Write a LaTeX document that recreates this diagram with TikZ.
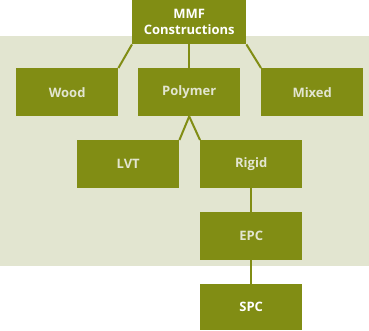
\documentclass[tikz,border=0pt]{standalone}
\usepackage{fontspec}
\setmainfont{Open Sans}
\definecolor{olive}{HTML}{818D14}
\definecolor{pale}{HTML}{E2E5D0}
\begin{document}
\begin{tikzpicture}[x=1pt,y=-1pt,
  box/.style={fill=olive, minimum width=102pt, minimum height=48pt, inner sep=0pt, anchor=north west, font=\fontsize{13}{15}\selectfont\bfseries, text=pale},
  link/.style={draw=olive, line width=2pt}]
\useasboundingbox (0,0) rectangle (369,330);
\fill[pale] (0,36) rectangle (369,266);
\node[box, minimum width=114pt, minimum height=44pt, text=white, align=center, font=\fontsize{13}{16}\selectfont\bfseries] (mmf) at (132,0) {MMF\\Constructions};
\node[box] (wood) at (16,68) {Wood};
\node[box] (poly) at (138,68) {Polymer};
\node[box] (mixed) at (261,68) {Mixed};
\node[box] (lvt) at (77,140) {LVT};
\node[box] (rigid) at (200,140) {Rigid};
\node[box] (epc) at (200,212) {EPC};
\node[box, minimum height=46pt, text=white] (spc) at (200,284) {SPC};
\draw[link] (mmf.south west) -- (wood.north east);
\draw[link] (mmf.south) -- (poly.north);
\draw[link] (mmf.south east) -- (mixed.north west);
\draw[link] (poly.south) -- (lvt.north east);
\draw[link] (poly.south) -- (rigid.north west);
\draw[link] (rigid.south) -- (epc.north);
\draw[link] (epc.south) -- (spc.north);
\end{tikzpicture}
\end{document}
